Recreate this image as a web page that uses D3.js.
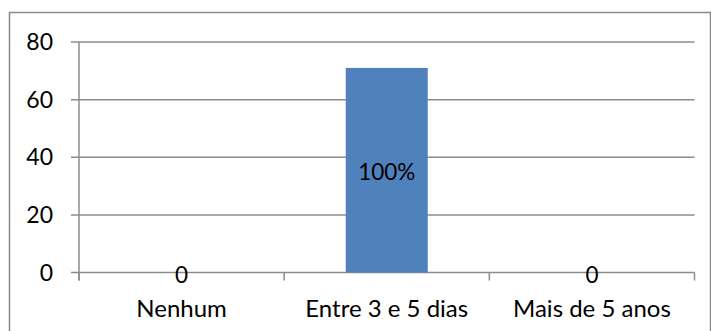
<!DOCTYPE html>
<html>
<head>
<meta charset="utf-8">
<script src="https://cdn.jsdelivr.net/npm/d3@7"></script>
<style>
  body { margin: 0; background: #fff; }
  text { font-family: Lato, "Open Sans", sans-serif; fill: #000; }
</style>
</head>
<body>
<div id="chart"></div>
<script>
const categories = ["Nenhum", "Entre 3 e 5 dias", "Mais de 5 anos"];
const values = [0, 71, 0];
const valueLabels = ["0", "100%", "0"];
const yTicks = [0, 20, 40, 60, 80];

const width = 711;
const height = 331;
const margin = { top: 42, right: 16.5, bottom: 58.5, left: 79 };

const svg = d3.select("#chart")
  .append("svg")
  .attr("width", width)
  .attr("height", height);

// outer frame
svg.append("rect")
  .attr("x", 9.5)
  .attr("y", 12.5)
  .attr("width", 701)
  .attr("height", 330)
  .attr("fill", "none")
  .attr("stroke", "#898989")
  .attr("stroke-width", 1.5);

const x = d3.scaleBand()
  .domain(categories)
  .range([margin.left, width - margin.right]);

const y = d3.scaleLinear()
  .domain([0, 80])
  .range([height - margin.bottom, margin.top]);

//Gridlines
svg.selectAll(".grid")
  .data(yTicks)
  .enter()
  .append("line")
  .attr("x1", margin.left - 8)
  .attr("x2", width - margin.right)
  .attr("y1", d => y(d))
  .attr("y2", d => y(d))
  .attr("stroke", "#8c8c8c")
  .attr("stroke-width", 1.5);

//Y axis line
svg.append("line")
  .attr("x1", margin.left)
  .attr("x2", margin.left)
  .attr("y1", margin.top)
  .attr("y2", y(0) + 8)
  .attr("stroke", "#8c8c8c")
  .attr("stroke-width", 1.5);

//Category ticks
const bounds = categories.map(c => x(c)).concat([x.range()[1]]);
svg.selectAll(".ctick")
  .data(bounds)
  .enter()
  .append("line")
  .attr("x1", d => d)
  .attr("x2", d => d)
  .attr("y1", y(0))
  .attr("y2", y(0) + 8)
  .attr("stroke", "#8c8c8c")
  .attr("stroke-width", 1.5);

//Y labels
svg.selectAll(".ylabel")
  .data(yTicks)
  .enter()
  .append("text")
  .attr("x", 53)
  .attr("y", d => y(d))
  .attr("dy", "0.35em")
  .attr("text-anchor", "end")
  .style("font-size", "23px")
  .text(d => d);

//Bars
const barW = 82;
svg.selectAll(".bar")
  .data(values)
  .enter()
  .append("rect")
  .attr("x", (d, i) => x(categories[i]) + x.bandwidth() / 2 - barW / 2)
  .attr("y", d => y(d))
  .attr("width", barW)
  .attr("height", d => y(0) - y(d))
  .attr("fill", "#4f81bd");

//Value labels
svg.selectAll(".vlabel")
  .data(values)
  .enter()
  .append("text")
  .attr("x", (d, i) => x(categories[i]) + x.bandwidth() / 2)
  .attr("y", d => d > 0 ? (y(d) + y(0)) / 2 + 2 : y(0) + 3)
  .attr("dy", "0.35em")
  .attr("text-anchor", "middle")
  .style("font-size", "22.5px")
  .text((d, i) => valueLabels[i]);

//Category labels
svg.selectAll(".xlabel")
  .data(categories)
  .enter()
  .append("text")
  .attr("x", d => x(d) + x.bandwidth() / 2)
  .attr("y", 317)
  .attr("text-anchor", "middle")
  .style("font-size", "24px")
  .text(d => d);
</script>
</body>
</html>
